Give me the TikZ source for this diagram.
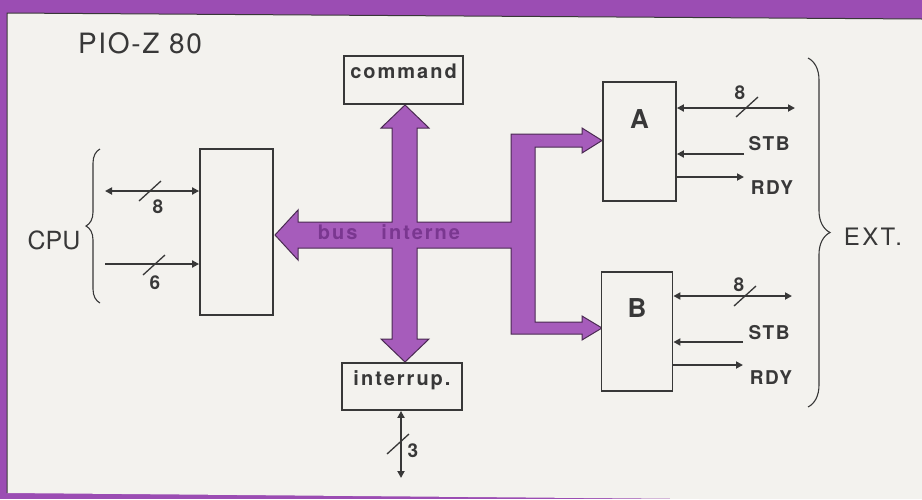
\documentclass[tikz,border=0pt]{standalone}
\usepackage{fontspec}
\setmainfont{TeX Gyre Heros}
\usepackage{xcolor}
\usepackage{tikz}
\usetikzlibrary{arrows.meta,calc,decorations.pathreplacing}
\definecolor{frame}{HTML}{9B4DB3}
\definecolor{paper}{HTML}{F3F2EE}
\definecolor{ink}{HTML}{383838}
\definecolor{busfill}{HTML}{A65CBB}
\definecolor{busedge}{HTML}{4A2A52}
\definecolor{bustext}{HTML}{7A3790}
\tikzset{
  box/.style={draw=ink, line width=1.8pt, fill=paper, inner sep=0pt, text=ink},
  sig/.style={line width=2.4pt, draw=ink},
  sigio/.style={sig, {Triangle[length=7pt,width=7pt]}-{Triangle[length=7pt,width=7pt]}},
  sigto/.style={sig, -{Triangle[length=7pt,width=7pt]}},
  tick/.style={line width=1.3pt, draw=ink},
  curly/.style={decorate, draw=ink, line width=1.1pt},
  bus/.style={fill=busfill, draw=busedge, line width=1pt, line join=miter},
  lbl/.style={text=ink, inner sep=0pt, font=\fontsize{19}{20}\selectfont\bfseries\addfontfeature{LetterSpace=8}},
  boxtxt/.style={font=\fontsize{20}{22}\selectfont\bfseries\addfontfeature{LetterSpace=10}},
  portname/.style={font=\fontsize{26}{28}\selectfont\bfseries},
  side/.style={text=ink, inner sep=0pt, font=\fontsize{25}{27}\selectfont},
  bustxt/.style={text=bustext, inner sep=0pt, font=\fontsize{20}{22}\selectfont\bfseries\addfontfeature{LetterSpace=10}}
}
\newcommand{\WidthTick}[1]{% slash across a bus line
  \draw[tick] ($(#1)+(-11,10)$) -- ($(#1)+(11,-10)$);
}

\begin{document}
\begin{tikzpicture}[x=1pt, y=-1pt]
  \useasboundingbox (0,0) rectangle (922,499);
  % frame and paper
  \fill[frame] (0,0) rectangle (922,499);
  \fill[paper] (7,13) -- (922,19) -- (922,499) -- (700,499) -- (7,493) -- cycle;
  \draw[ink, line width=1pt] (7,493) -- (7,13) -- (922,19);

  % internal bus
  \draw[bus] (405,105) -- (429,128) -- (417,128) -- (417,222) -- (511,222)
    -- (511,134) -- (582,134) -- (582,128) -- (602,140.5) -- (582,153)
    -- (582,147) -- (535,147) -- (535,322) -- (582,322) -- (582,316)
    -- (602,328) -- (582,340) -- (582,334) -- (511,334) -- (511,248)
    -- (417,248) -- (417,339) -- (429,339) -- (405,362) -- (381,339)
    -- (392,339) -- (392,248) -- (298,248) -- (298,260) -- (275,235)
    -- (298,210) -- (298,222) -- (392,222) -- (392,128) -- (381,128) -- cycle;
  \node[bustxt] (busname) at (389,232) {bus\hspace{24pt}interne};

  \node[side, font=\fontsize{28}{30}\selectfont\addfontfeature{LetterSpace=6}] (pio) at (140,43) {PIO-Z 80};

  % blocks
  \node[box, boxtxt, minimum width=119pt, minimum height=48pt, text height=22pt, text depth=26pt] (command) at (403.5,80) {command};
  \node[box, boxtxt, minimum width=120pt, minimum height=47pt, text height=22pt, text depth=25pt] (interrup) at (402,386.5) {interrup.};
  \node[box, minimum width=73pt, minimum height=166pt] (port) at (236.5,232) {};
  \node[box, portname, minimum width=73pt, minimum height=119pt, text height=46pt, text depth=73pt] (pa) at (639.5,141.5) {A};
  \node[box, portname, minimum width=71pt, minimum height=119pt, text height=45pt, text depth=74pt] (pb) at (637,331.5) {B};

  % CPU side
  \coordinate (cpu8) at (105,191);
  \coordinate (cpu6) at (105,264);
  \draw[sigio] (cpu8) -- (cpu8 -| port.west);
  \draw[sigto] (cpu6) -- (cpu6 -| port.west);
  \WidthTick{150,191}
  \WidthTick{154,265}
  \node[lbl] (w8) at (158,207) {8};
  \node[lbl] (w6) at (155,283) {6};
  \draw[curly, decoration={brace, amplitude=14pt}] (100,303) -- (100,149);
  \node[side] (cpu) at (54,240) {CPU};

  % port A
  \coordinate (a8) at (795,108);
  \coordinate (astb) at (744,154);
  \coordinate (ardy) at (744,177);
  \draw[sigio] (a8 -| pa.east) -- (a8);
  \draw[sigto] (astb) -- (astb -| pa.east);
  \draw[sigto] (ardy -| pa.east) -- (ardy);
  \WidthTick{747,107}
  \node[lbl] (wa8) at (740,93) {8};
  \node[lbl] (astbl) at (769,144) {STB};
  \node[lbl] (ardyl) at (772,188) {RDY};

  % port B
  \coordinate (b8) at (792,296);
  \coordinate (bstb) at (743,342);
  \coordinate (brdy) at (743,365);
  \draw[sigio] (b8 -| pb.east) -- (b8);
  \draw[sigto] (bstb) -- (bstb -| pb.east);
  \draw[sigto] (brdy -| pb.east) -- (brdy);
  \WidthTick{745,296}
  \node[lbl] (wb8) at (739,285) {8};
  \node[lbl] (bstbl) at (769,333) {STB};
  \node[lbl] (brdyl) at (771,378) {RDY};

  \draw[curly, decoration={brace, amplitude=22pt}] (808,58) -- (808,407);
  \node[side, font=\fontsize{24}{26}\selectfont\addfontfeature{LetterSpace=10}] (ext) at (873,237) {EXT.};

  % interrupt lines
  \coordinate (irq) at (401,478);
  \draw[sigio] (irq |- interrup.south) -- (irq);
  \WidthTick{398,444}
  \node[lbl] (w3) at (413,451) {3};
\end{tikzpicture}
\end{document}
